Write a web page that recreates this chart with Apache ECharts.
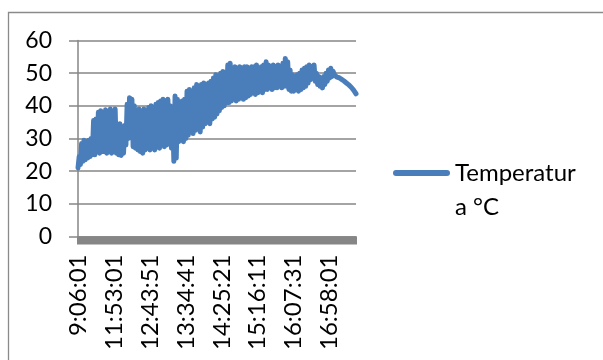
<!DOCTYPE html>
<html>
<head>
<meta charset="utf-8">
<script src="https://cdn.jsdelivr.net/npm/echarts@6/dist/echarts.min.js"></script>
<style>
html,body{margin:0;padding:0;background:#fff;}
#c{width:603px;height:360px;}
</style>
</head>
<body>
<div id="c"></div>
<script>
// Tick labels shown on the category axis (every 30th category)
var tickLabels = ['9:06:01','11:53:01','12:43:51','13:34:41','14:25:21','15:16:11','16:07:31','16:58:01'];
var seriesName = 'Temperatura °C';
var yTicks = [0, 10, 20, 30, 40, 50, 60];
// Temperature readings (°C)
var temperature = [
21,24.5,22,28.5,23,29.5,23.5,29,24,29.5,
24.5,30,25,35.5,25,36,26,38,25.5,38.5,
26,37.5,26,38.8,25.5,38,26.5,39,25.5,37.5,
26,39,25.5,34,25,34.5,24.8,33.5,25.5,34,
28,40.5,30,42.5,33,42,27.5,40,27,38.5,
26.5,39,26,38,25.5,39,26.5,38.5,27,39.5,
26.5,40,27,39.5,26.5,40.5,27.5,41,27,41.5,
28,42,27.5,41.5,28,42,28.5,40,27,38,
23,43,24,42,29,41,29.5,41.5,29,42,
30,44.5,31,45,32,44.5,31.5,45.5,32.5,46.5,
33,46,32,46.5,33.5,47,34.5,46.5,35,47,
34.5,47.5,36,48.5,36.5,49.5,37.5,49,38.5,50,
39.5,50.5,40,50,41,52.5,41,53,41.5,51.5,
42,52,41.5,51.5,42,52,42.5,51.5,42,52,
42.5,52,43,51.5,43.5,52,44,52,43.5,52.5,
44,51.5,44.5,52,44,52.5,45,53.5,45,52.5,
45.5,52,45,52.5,45.5,52,45.5,52.5,46,52,
45.5,53,46,54.5,46,53.5,45,51,44.5,49.5,
44.5,49,45,49.5,44.5,50,45,51,45.5,51.5,
46,52,47,52.5,48,52,48.5,52.5,47.5,50,
46.5,49,46,48.5,45.5,49,46.5,50,47.5,51,
48.5,51.5,49,50.5,49.5,49,48.8,48.5,48.6,48.3,
48.1,47.8,47.6,47.4,47.0,46.8,46.4,46.1,45.7,45.3,
44.8,44.3,43.7
];

var labelStep = 30;
var categories = temperature.map(function (v, i) {
  return (i % labelStep === 0 && tickLabels[i / labelStep] !== undefined) ? tickLabels[i / labelStep] : '';
});

var gray = '#868686';
var blue = '#4a7ebb';
var fontFam = 'Lato, "Open Sans", sans-serif';

var chart = echarts.init(document.getElementById('c'), null, {renderer: 'canvas'});
chart.setOption({
  animation: false,
  backgroundColor: '#fff',
  graphic: [{
    type: 'rect',
    shape: {x: 8.5, y: 12.5, width: 700, height: 400},
    style: {fill: 'none', stroke: '#8a8a8a', lineWidth: 1.3},
    silent: true
  }],
  grid: {left: 78, right: 247, top: 40.5, bottom: 123.5, containLabel: false},
  legend: {
    left: 388,
    top: 117,
    orient: 'vertical',
    itemWidth: 57,
    itemHeight: 6,
    icon: 'path://M3,0L54,0A3,3 0 0 1 54,6L3,6A3,3 0 0 1 3,0Z',
    itemStyle: {color: blue},
    data: [seriesName],
    formatter: function () { return '\nTemperatur\na °C'; },
    textStyle: {fontFamily: fontFam, fontSize: 24, color: '#000', lineHeight: 34}
  },
  xAxis: {
    type: 'category',
    boundaryGap: false,
    data: categories,
    axisLine: {show: true, lineStyle: {color: gray, width: 1.5}},
    axisTick: {show: true, interval: 0, length: 8, lineStyle: {color: gray, width: 2}},
    axisLabel: {interval: labelStep - 1, rotate: 90, margin: 18, fontFamily: fontFam, fontSize: 24, color: '#000'},
    splitLine: {show: false}
  },
  yAxis: {
    type: 'value',
    min: yTicks[0],
    max: yTicks[yTicks.length - 1],
    interval: 10,
    axisLine: {show: true, lineStyle: {color: gray, width: 1.5}},
    axisTick: {show: true, length: 9, lineStyle: {color: gray, width: 1.5}},
    axisLabel: {margin: 26, fontFamily: fontFam, fontSize: 23, color: '#000'},
    splitLine: {show: true, lineStyle: {color: gray, width: 1.5}}
  },
  series: [{
    name: seriesName,
    type: 'line',
    data: temperature,
    symbol: 'none',
    showSymbol: false,
    lineStyle: {color: blue, width: 5, cap: 'round', join: 'round'},
    itemStyle: {color: blue}
  }]
});
</script>
</body>
</html>
